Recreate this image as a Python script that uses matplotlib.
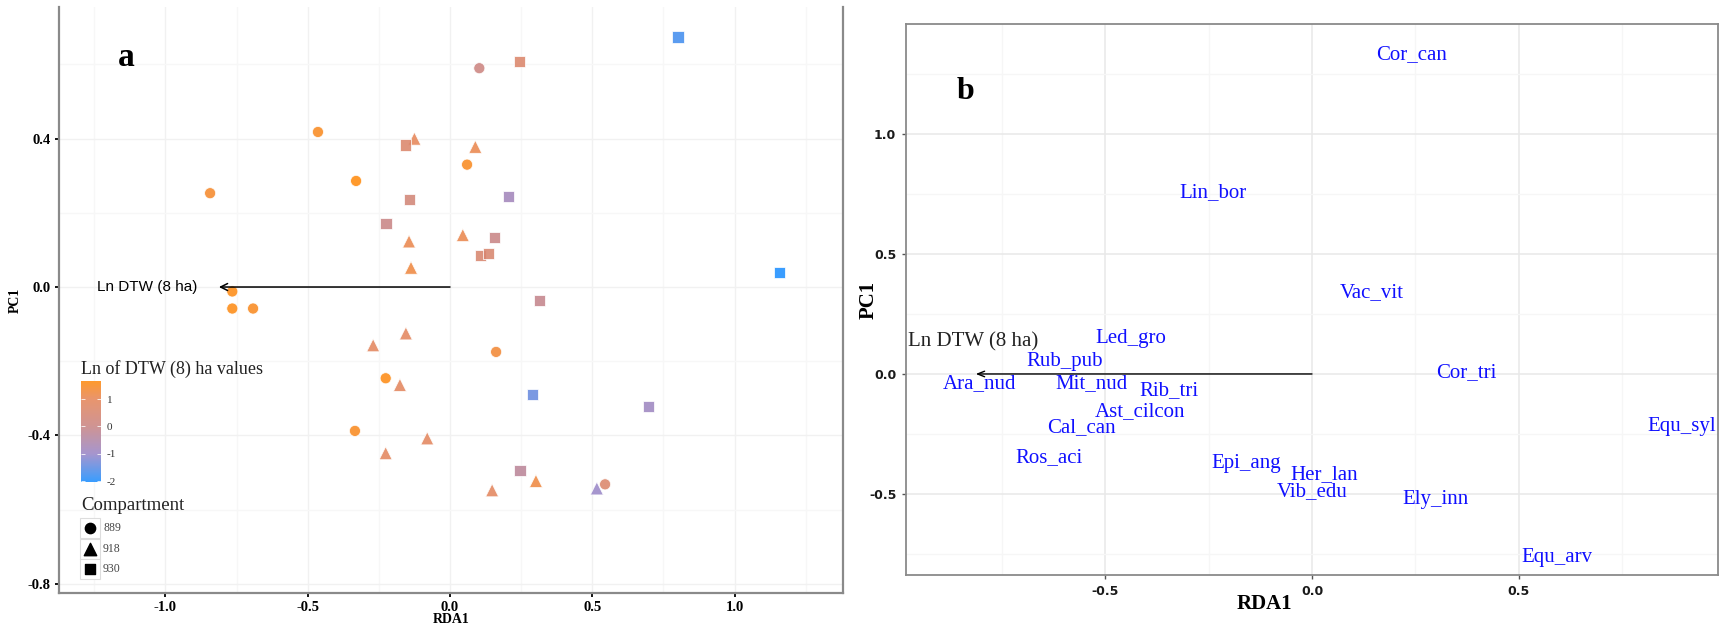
import numpy as np
import matplotlib
matplotlib.use("Agg")
import matplotlib.pyplot as plt
from matplotlib.colors import LinearSegmentedColormap, Normalize
from matplotlib.ticker import MultipleLocator
from matplotlib.patches import Rectangle

# ---- panel a: site scores (RDA1, PC1) and Ln DTW (8 ha) per compartment ----
c889_x = [-0.464, -0.843, -0.330, -0.765, -0.765, -0.692, 0.103, 0.060, -0.226, -0.334, 0.162, 0.545]
c889_y = [0.418, 0.253, 0.286, -0.012, -0.058, -0.058, 0.590, 0.330, -0.246, -0.388, -0.175, -0.532]
c889_dtw = [1.5, 1.4, 1.66, 1.6, 1.6, 1.5, 0.1, 1.5, 1.6, 1.5, 1.3, 0.6]

c918_x = [-0.125, -0.144, -0.137, 0.089, 0.045, -0.155, -0.270, -0.176, -0.080, -0.226, 0.302, 0.148, 0.516]
c918_y = [0.400, 0.123, 0.052, 0.378, 0.140, -0.125, -0.157, -0.264, -0.408, -0.448, -0.523, -0.548, -0.543]
c918_dtw = [1.0, 1.1, 1.2, 1.1, 1.1, 0.9, 0.9, 0.9, 0.9, 0.9, 1.2, 0.9, -1.0]

c930_x = [-0.157, -0.141, -0.225, 0.801, 0.245, 0.207, 0.155, 0.108, 0.134, 1.159, 0.313, 0.289, 0.699, 0.246]
c930_y = [0.383, 0.237, 0.172, 0.674, 0.609, 0.243, 0.133, 0.086, 0.091, 0.038, -0.036, -0.289, -0.323, -0.494]
c930_dtw = [0.6, 0.3, 0.0, -1.7, 0.6, -0.8, 0.0, 0.5, 0.5, -2.03, -0.1, -1.4, -0.9, -0.3]

compartments = ["889", "918", "930"]
dtw_ticks = [1, 0, -1, -2]
dtw_min, dtw_max = -2.03, 1.66

# environmental vector (biplot arrow)
arrow_label = "Ln DTW (8 ha)"
arrow_a = (-0.812, 0.0)
arrow_b = (-0.814, 0.0)

# ---- panel b: species scores ----
species = ["Cor_can", "Lin_bor", "Vac_vit", "Led_gro", "Rub_pub", "Ara_nud", "Mit_nud",
           "Rib_tri", "Ast_cilcon", "Cal_can", "Ros_aci", "Epi_ang", "Her_lan", "Vib_edu",
           "Cor_tri", "Equ_syl", "Ely_inn", "Equ_arv"]
sp_x = [0.240, -0.240, 0.145, -0.438, -0.598, -0.806, -0.535, -0.346, -0.416, -0.559,
        -0.637, -0.160, 0.029, 0.000, 0.373, 0.896, 0.300, 0.593]
sp_y = [1.329, 0.754, 0.337, 0.146, 0.050, -0.040, -0.042, -0.071, -0.158, -0.225,
        -0.350, -0.375, -0.420, -0.488, 0.004, -0.217, -0.525, -0.763]

W, H = 1725, 629
SERIF = "Liberation Serif"
fig = plt.figure(figsize=(W / 100, H / 100), dpi=100)


def px_axes(left, top, right, bottom):
    return fig.add_axes([left / W, 1 - bottom / H, (right - left) / W, (bottom - top) / H])


# colour scale: dodgerblue -> darkorange (ggplot-like Lab blend)
cmap = LinearSegmentedColormap.from_list(
    "dtw", [(0.0, "#1E90FF"), (0.279, "#9a88c8"), (0.55, "#c98585"),
            (0.821, "#e6875a"), (1.0, "#ff8c10")])
norm = Normalize(dtw_min, dtw_max)

# ================= panel a =================
ax = px_axes(59, 7, 843, 593)
ax.set_xlim(-1.374, 1.381)
ax.set_ylim(-0.825, 0.755)
ax.xaxis.set_major_locator(MultipleLocator(0.5))
ax.xaxis.set_minor_locator(MultipleLocator(0.25))
ax.yaxis.set_major_locator(MultipleLocator(0.4))
ax.yaxis.set_minor_locator(MultipleLocator(0.2))
ax.grid(which="major", color="#f1f1f1", lw=1.0)
ax.grid(which="minor", color="#f7f7f7", lw=1.0)
ax.set_axisbelow(True)
for s in ("left", "bottom", "right"):
    ax.spines[s].set_color("#8a8a8a")
    ax.spines[s].set_linewidth(1.6)
ax.spines["top"].set_visible(False)
ax.tick_params(which="major", length=3, width=1.3, color="black", pad=3)
ax.tick_params(which="minor", length=0)
ax.set_xticklabels([f"{v:.1f}" for v in ax.get_xticks()])
ax.set_yticklabels([f"{v:.1f}" for v in ax.get_yticks()])
for lab in ax.get_xticklabels() + ax.get_yticklabels():
    lab.set_family(SERIF)
    lab.set_fontweight("bold")
    lab.set_fontsize(10.5)

for xs, ys, vals, mk, size in [(c889_x, c889_y, c889_dtw, "o", 64),
                               (c918_x, c918_y, c918_dtw, "^", 88),
                               (c930_x, c930_y, c930_dtw, "s", 64)]:
    ax.scatter(xs, ys, c=vals, cmap=cmap, norm=norm, marker=mk, s=size,
               alpha=0.88, edgecolors="white", linewidths=0.6, zorder=3)

ax.annotate("", xy=arrow_a, xytext=(0, 0),
            arrowprops=dict(arrowstyle="->,head_length=0.5,head_width=0.25",
                            color="black", lw=1.1, shrinkA=0, shrinkB=0))
ax.text(arrow_a[0] - 0.075, arrow_a[1], arrow_label, ha="right", va="center",
        fontsize=11, family="Liberation Sans")
ax.text(-1.138, 0.62, "a", fontsize=24, fontweight="bold", family=SERIF,
        ha="center", va="center")

ax.set_xlabel("RDA1", family=SERIF, fontweight="bold", fontsize=10)
ax.set_ylabel("PC1", family=SERIF, fontweight="bold", fontsize=10)
ax.xaxis.set_label_coords(0.5, -0.034)
ax.yaxis.set_label_coords(-0.047, 0.5)

# colour bar legend
cax = px_axes(81, 381, 101, 482)
grad = np.linspace(dtw_max, dtw_min, 256)[:, None]
cax.imshow(grad, aspect="auto", cmap=cmap, norm=norm, alpha=0.88,
           extent=[0, 1, dtw_min, dtw_max])
cax.set_xlim(0, 1)
cax.set_ylim(dtw_min, dtw_max)
cax.set_xticks([])
cax.yaxis.tick_right()
cax.set_yticks(dtw_ticks)
cax.set_yticklabels([str(t) for t in dtw_ticks], family=SERIF, fontsize=8, color="#333333")
cax.tick_params(axis="y", length=0, pad=4)
cax.hlines(dtw_ticks, 0, 0.2, color="white", lw=0.7, alpha=0.8)
cax.hlines(dtw_ticks, 0.8, 1, color="white", lw=0.7, alpha=0.8)
for s in cax.spines.values():
    s.set_visible(False)

# overlay for legend texts and shape keys (pixel coordinates)
lax = fig.add_axes([0, 0, 1, 1])
lax.set_xlim(0, W)
lax.set_ylim(H, 0)
lax.axis("off")
lax.text(81, 369, "Ln of DTW (8) ha values", family=SERIF, fontsize=13,
         ha="left", va="center", color="#222222")
lax.text(81, 506, "Compartment", family=SERIF, fontsize=13.5,
         ha="left", va="center", color="#222222")
for i, (name, mk, size) in enumerate(zip(compartments, ["o", "^", "s"], [55, 80, 55])):
    yk = 528 + i * 20.5
    lax.add_patch(Rectangle((80, yk - 10), 20, 20, facecolor="white",
                            edgecolor="#dddddd", lw=0.8))
    lax.scatter([90], [yk], marker=mk, s=size, color="black", zorder=3)
    lax.text(103, yk, name, family=SERIF, fontsize=8.5, ha="left", va="center",
             color="#444444")

# ================= panel b =================
bx = px_axes(906, 24, 1718, 575)
bx.set_xlim(-0.983, 0.983)
bx.set_ylim(-0.8375, 1.458)
bx.xaxis.set_major_locator(MultipleLocator(0.5))
bx.xaxis.set_minor_locator(MultipleLocator(0.25))
bx.yaxis.set_major_locator(MultipleLocator(0.5))
bx.yaxis.set_minor_locator(MultipleLocator(0.25))
bx.grid(which="major", color="#e8e8e8", lw=1.1)
bx.grid(which="minor", color="#f6f6f6", lw=1.0)
bx.set_axisbelow(True)
for s in bx.spines.values():
    s.set_color("#8a8a8a")
    s.set_linewidth(1.3)
bx.tick_params(which="major", length=3, width=1.0, color="#555555", pad=4)
bx.tick_params(which="minor", length=0)
bx.set_xticklabels([f"{v:.1f}" for v in bx.get_xticks()])
bx.set_yticklabels([f"{v:.1f}" for v in bx.get_yticks()])
for lab in bx.get_xticklabels() + bx.get_yticklabels():
    lab.set_fontweight("bold")
    lab.set_fontsize(9)
    lab.set_color("#1a1a1a")

for name, x, y in zip(species, sp_x, sp_y):
    bx.text(x, y, name, color="#1010ff", fontsize=15, family=SERIF,
            ha="center", va="center")

bx.annotate("", xy=arrow_b, xytext=(0, 0),
            arrowprops=dict(arrowstyle="->,head_length=0.5,head_width=0.2",
                            color="black", lw=1.0, shrinkA=0, shrinkB=0))
bx.text(-0.978, 0.133, arrow_label, fontsize=15, family=SERIF, ha="left",
        va="center", color="#222222")
bx.text(-0.840, 1.175, "b", fontsize=23, fontweight="bold", family=SERIF,
        ha="center", va="center")

bx.set_xlabel("RDA1", family=SERIF, fontweight="bold", fontsize=15)
bx.set_ylabel("PC1", family=SERIF, fontweight="bold", fontsize=15)
bx.xaxis.set_label_coords(0.442, -0.034)
bx.yaxis.set_label_coords(-0.034, 0.5)

fig.savefig("out.png", dpi=100)
